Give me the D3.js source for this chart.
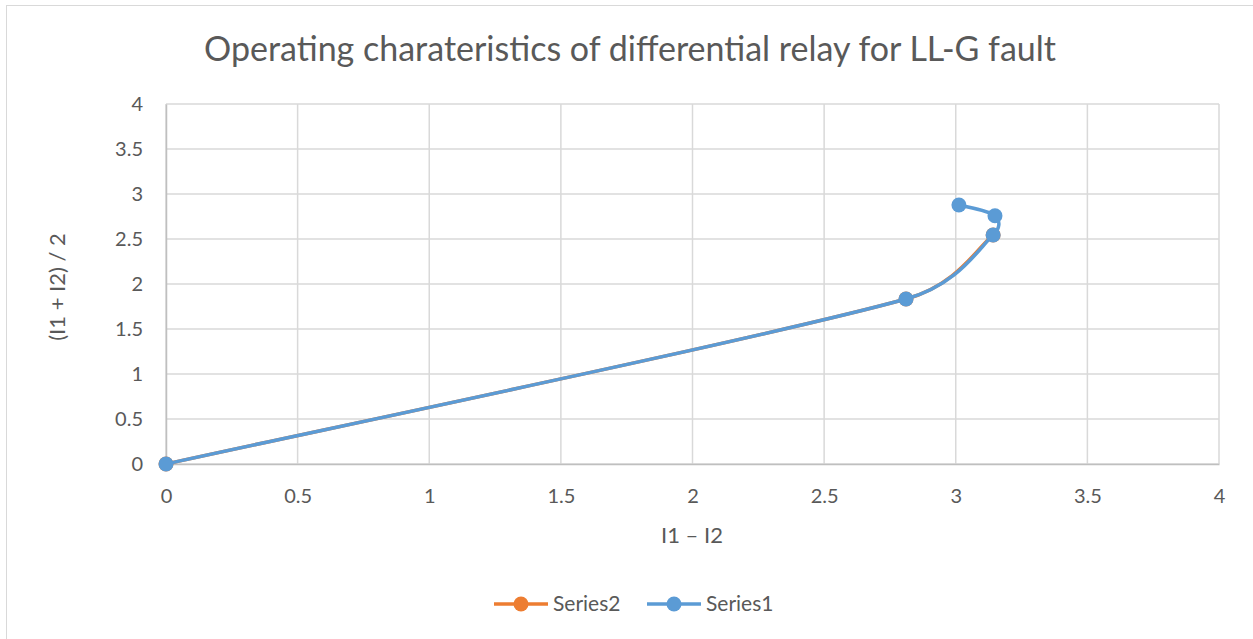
<!DOCTYPE html>
<html>
<head>
<meta charset="utf-8">
<script src="https://cdn.jsdelivr.net/npm/d3@7"></script>
<style>
  html, body { margin: 0; padding: 0; background: #ffffff; }
  svg { display: block; }
  text { font-family: Lato, "Open Sans", sans-serif; fill: #595959; }
</style>
</head>
<body>
<script>
// Data: differential relay operating characteristic (LL-G fault)
const series1X = [0, 2.811, 3.142, 3.149, 3.012];
const series1Y = [0, 1.833, 2.544, 2.759, 2.878];
const series2X = [0, 2.811, 3.142];
const series2Y = [0, 1.833, 2.544];
const xTicks = [0, 0.5, 1, 1.5, 2, 2.5, 3, 3.5, 4];
const yTicks = [0, 0.5, 1, 1.5, 2, 2.5, 3, 3.5, 4];
const seriesNames = ["Series2", "Series1"];
const seriesColors = ["#ED7D31", "#5B9BD5"];

const W = 1253, H = 639;
const svg = d3.select("body").append("svg").attr("width", W).attr("height", H);

// chart frame
svg.append("rect").attr("x", 6.5).attr("y", 5.5).attr("width", W).attr("height", H)
  .attr("fill", "#fff").attr("stroke", "#d9d9d9").attr("stroke-width", 1);

const plot = { left: 166, right: 1219, top: 104, bottom: 464 };
const x = d3.scaleLinear().domain([0, 4]).range([plot.left, plot.right]);
const y = d3.scaleLinear().domain([0, 4]).range([plot.bottom, plot.top]);

// gridlines
const grid = svg.append("g");
grid.selectAll("line.v").data(xTicks).join("line")
  .attr("x1", d => x(d)).attr("x2", d => x(d))
  .attr("y1", plot.top).attr("y2", plot.bottom)
  .attr("stroke", "#d9d9d9").attr("stroke-width", 1.5);
grid.selectAll("line.h").data(yTicks).join("line")
  .attr("y1", d => y(d)).attr("y2", d => y(d))
  .attr("x1", plot.left).attr("x2", plot.right)
  .attr("stroke", "#d9d9d9").attr("stroke-width", 1.5);

// axes
const xAxis = d3.axisBottom(x).tickValues(xTicks).tickSize(0).tickPadding(32)
  .tickFormat(d => String(d));
const yAxis = d3.axisLeft(y).tickValues(yTicks).tickSize(0).tickPadding(23)
  .tickFormat(d => String(d));

const gx = svg.append("g").attr("transform", `translate(0,${plot.bottom})`).call(xAxis);
gx.select(".domain").attr("stroke", "#bfbfbf").attr("stroke-width", 1.5);
gx.selectAll("text").attr("font-size", 20).attr("fill", "#595959")
  .style("font-family", "Lato, sans-serif").attr("dy", "0.35em");

const gy = svg.append("g").attr("transform", `translate(${plot.left},0)`).call(yAxis);
gy.select(".domain").attr("stroke", "#bfbfbf").attr("stroke-width", 1.5);
gy.selectAll("text").attr("font-size", 20).attr("fill", "#595959")
  .style("font-family", "Lato, sans-serif");

// titles
svg.append("text").attr("x", 630).attr("y", 61).attr("text-anchor", "middle")
  .attr("font-size", 34).text("Operating charateristics of differential relay for LL-G fault");
svg.append("text").attr("x", 692).attr("y", 543).attr("text-anchor", "middle")
  .attr("font-size", 22).text("I1 – I2");
svg.append("text").attr("transform", "translate(65,287) rotate(-90)").attr("text-anchor", "middle")
  .attr("font-size", 22).text("(I1 + I2) / 2");

// Smoothed line: cubic Bézier segments whose handles follow the neighbouring
// points (P[i+1] - P[i-1]) / 6, each handle capped at half its segment length.
function curveSmoothCapped(context) {
  let pts = [];
  return {
    areaStart() {}, areaEnd() {},
    lineStart() { pts = []; },
    point(px, py) { pts.push([+px, +py]); },
    lineEnd() {
      const n = pts.length;
      if (!n) return;
      context.moveTo(pts[0][0], pts[0][1]);
      const tangent = i => {
        const a = pts[Math.max(i - 1, 0)], b = pts[Math.min(i + 1, n - 1)];
        return [b[0] - a[0], b[1] - a[1]];
      };
      for (let i = 0; i < n - 1; i++) {
        const p0 = pts[i], p1 = pts[i + 1];
        const seg = Math.hypot(p1[0] - p0[0], p1[1] - p0[1]);
        const handle = t => {
          const len = Math.hypot(t[0], t[1]);
          if (len === 0) return [0, 0];
          const l = Math.min(len / 6, seg / 2);
          return [t[0] / len * l, t[1] / len * l];
        };
        const h0 = handle(tangent(i)), h1 = handle(tangent(i + 1));
        context.bezierCurveTo(p0[0] + h0[0], p0[1] + h0[1],
                              p1[0] - h1[0], p1[1] - h1[1],
                              p1[0], p1[1]);
      }
    }
  };
}

// series
const line = d3.line().x(d => x(d[0])).y(d => y(d[1])).curve(curveSmoothCapped);
const s1 = series1X.map((v, i) => [v, series1Y[i]]);
const s2 = series2X.map((v, i) => [v, series2Y[i]]);
const data = [s2, s1];

data.forEach((pts, i) => {
  svg.append("path").datum(pts).attr("d", line)
    .attr("fill", "none").attr("stroke", seriesColors[i])
    .attr("stroke-width", 3.5).attr("stroke-linejoin", "round").attr("stroke-linecap", "round");
  svg.append("g").selectAll("circle").data(pts).join("circle")
    .attr("cx", d => x(d[0])).attr("cy", d => y(d[1])).attr("r", 7.5)
    .attr("fill", seriesColors[i]);
});

// legend
const legend = svg.append("g").attr("transform", "translate(0,604)");
const legendX = [494, 647];
seriesNames.forEach((name, i) => {
  const g = legend.append("g").attr("transform", `translate(${legendX[i]},0)`);
  g.append("line").attr("x1", 0).attr("x2", 54).attr("y1", 0).attr("y2", 0)
    .attr("stroke", seriesColors[i]).attr("stroke-width", 3.5);
  g.append("circle").attr("cx", 27).attr("cy", 0).attr("r", 7.5).attr("fill", seriesColors[i]);
  g.append("text").attr("x", 59).attr("y", 0).attr("dy", "0.35em")
    .attr("font-size", 21).text(name);
});
</script>
</body>
</html>
